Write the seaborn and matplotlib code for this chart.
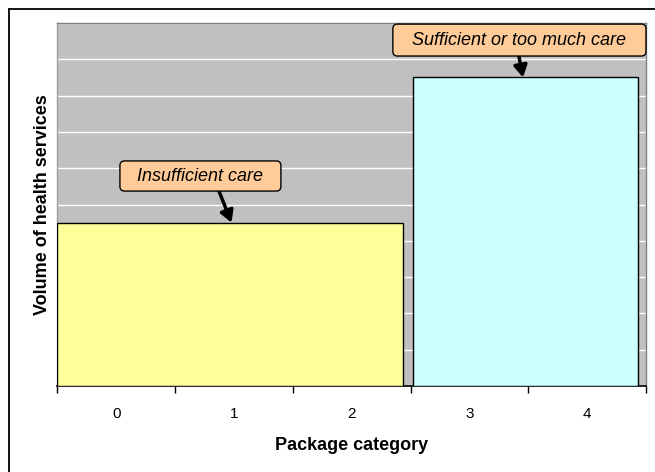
import matplotlib
matplotlib.use("Agg")
import matplotlib.pyplot as plt
import seaborn as sns
import numpy as np
from matplotlib.patches import FancyBboxPatch
from matplotlib.lines import Line2D

# ---- data ----
categories = [0, 1, 2, 3, 4]
groups = ["Insufficient care", "Sufficient or too much care"]
group_first = [0, 3]          # first package category of each group
group_last = [2, 4]           # last package category of each group
volume = [4.5, 8.5]           # volume of health services (arbitrary units)
y_grid = list(range(0, 11))

# ---- style ----
sns.set_style("white")
plt.rcParams['font.family'] = ['Liberation Sans', 'DejaVu Sans']
plt.rcParams['text.color'] = 'black'
plt.rcParams['axes.labelcolor'] = 'black'
plt.rcParams['xtick.color'] = 'black'
plt.rcParams['ytick.color'] = 'black'

bar_colors = ["#FFFF99", "#CCFFFF"]
left_gap = [0.0, 0.025]
right_gap = [0.065, 0.065]

W, H = 655, 472
fig = plt.figure(figsize=(W / 100, H / 100), dpi=100)
fig.patch.set_facecolor("white")
ax = fig.add_axes([57.3 / W, 86 / H, 588.7 / W, 363 / H])
ax.set_facecolor("#C0C0C0")

lefts = [f - 0.5 + lg for f, lg in zip(group_first, left_gap)]
widths = [(l + 0.5 - rg) - le for l, rg, le in zip(group_last, right_gap, lefts)]
ax.bar(lefts, volume, width=widths, align="edge", color=bar_colors,
       edgecolor="black", linewidth=1.0, zorder=3)

ax.set_xlim(categories[0] - 0.5, categories[-1] + 0.5)
ax.set_ylim(y_grid[0], y_grid[-1])

# ticks
ax.set_xticks(np.arange(categories[0] - 0.5, categories[-1] + 1, 1))
ax.set_xticklabels([])
ax.set_xticks(categories, minor=True)
ax.set_xticklabels([str(c) for c in categories], minor=True, fontsize=11)
ax.tick_params(axis="x", which="major", bottom=True, length=5, width=1,
               color="black", direction="out")
ax.tick_params(axis="x", which="minor", bottom=True, length=0, pad=15)
ax.set_yticks(y_grid)
ax.set_yticklabels([])
ax.tick_params(axis="y", length=0)
ax.yaxis.grid(True, color="white", linewidth=1.0, zorder=1)
ax.set_axisbelow(True)

for s in ["top", "right"]:
    ax.spines[s].set_color("#808080")
    ax.spines[s].set_linewidth(1.0)
ax.spines["left"].set_color("#A0A0A0")
ax.spines["left"].set_linewidth(1.0)
ax.spines["bottom"].set_color("black")
ax.spines["bottom"].set_linewidth(1.2)

ax.set_xlabel("Package category", fontsize=13, fontweight="bold", labelpad=12)
ax.set_ylabel("Volume of health services", fontsize=13, fontweight="bold", labelpad=1)

# ---- callouts ----
aspect = (588.7 / 5) / (363 / 10)
callouts = [
    # (x0, x1, y0, y1, arrow_start_x, arrow_tip_x)
    (0.032, 1.399, 5.37, 6.20, 0.873, 0.98),
    (2.350, 4.500, 9.09, 9.97, 3.420, 3.455),
]
for (x0, x1, y0, y1, sx, tx), txt, v in zip(callouts, groups, volume):
    box = FancyBboxPatch((x0, y0), x1 - x0, y1 - y0,
                         boxstyle="round,pad=0,rounding_size=0.04",
                         mutation_aspect=aspect, facecolor="#FFCC99",
                         edgecolor="black", linewidth=1.0, zorder=6,
                         clip_on=False)
    ax.add_patch(box)
    ax.text((x0 + x1) / 2, (y0 + y1) / 2, txt, ha="center", va="center",
            fontsize=13, fontstyle="italic", zorder=7)
    ax.annotate("", xy=(tx, v), xytext=(sx, y0),
                arrowprops=dict(arrowstyle="-|>,head_length=0.7,head_width=0.4",
                                lw=2.5, color="black", shrinkA=0, shrinkB=0),
                zorder=5)

# figure frame (left and top edges visible)
fig.add_artist(Line2D([8.5 / W, 8.5 / W], [0, 1 - 8.5 / H], color="black",
                      lw=1.3, transform=fig.transFigure))
fig.add_artist(Line2D([8.5 / W, 1], [1 - 8.5 / H, 1 - 8.5 / H], color="black",
                      lw=1.3, transform=fig.transFigure))

fig.savefig("out.png", dpi=100)
